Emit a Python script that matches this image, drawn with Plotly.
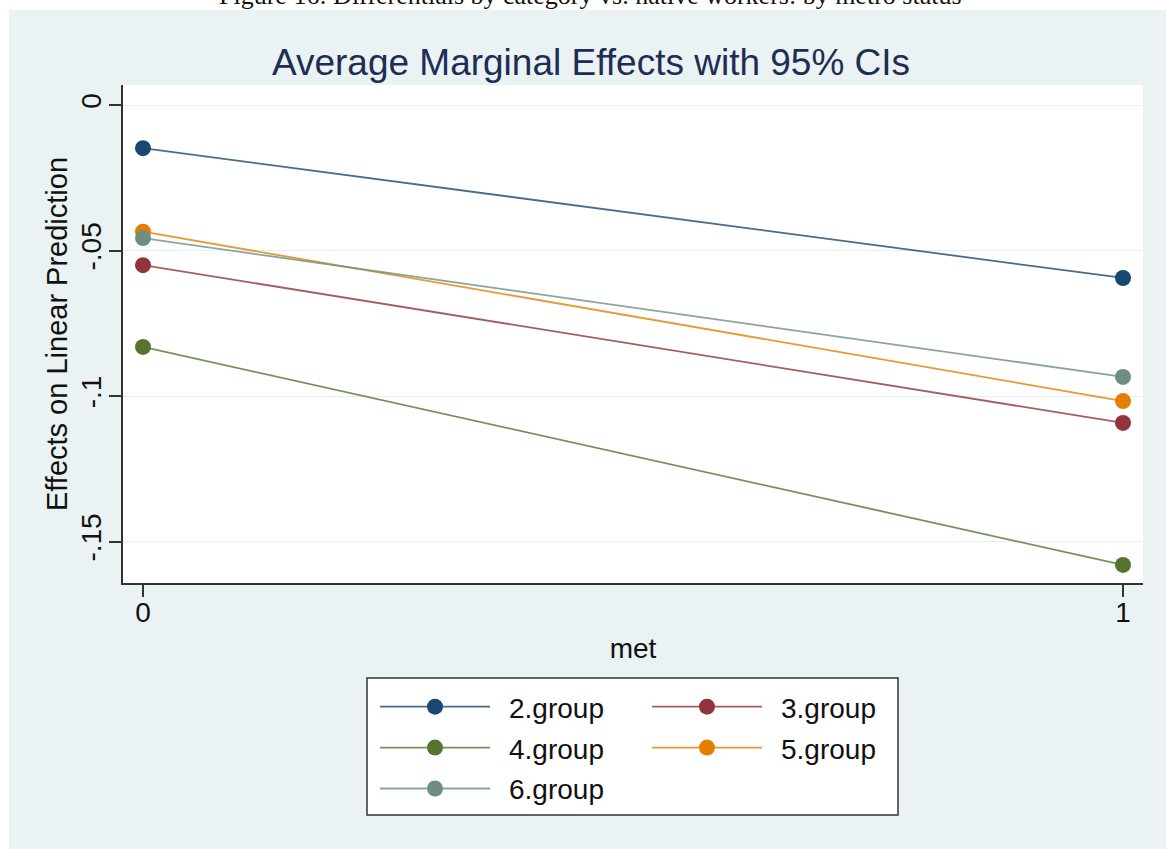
import plotly.graph_objects as go

# ---- data ----
met_levels = [0, 1]
groups = ["2.group", "3.group", "4.group", "5.group", "6.group"]
effects = {
    "2.group": [-0.0148, -0.0594],
    "3.group": [-0.0550, -0.1092],
    "4.group": [-0.0831, -0.1580],
    "5.group": [-0.0435, -0.1017],
    "6.group": [-0.0457, -0.0934],
}
y_ticks = [0, -0.05, -0.1, -0.15]
y_tick_text = ["0", "-.05", "-.1", "-.15"]
x_tick_text = ["0", "1"]

# ---- styling ----
colors = {
    "2.group": "26,71,111",
    "3.group": "144,53,59",
    "4.group": "85,117,47",
    "5.group": "227,126,0",
    "6.group": "110,142,132",
}
legend_of = {"2.group": "legend", "4.group": "legend", "6.group": "legend",
             "3.group": "legend2", "5.group": "legend2"}

W, H = 1166, 849
L, R, T, B = 123, 23, 85, 266
PW, PH = W - L - R, H - T - B


def px_x(p):
    return (p - L) / PW


def px_y(p):
    return (H - B - p) / PH


fig = go.Figure()
for g in groups:
    c = colors[g]
    fig.add_trace(go.Scatter(
        x=met_levels, y=effects[g], name="\u2002" + g, mode="lines+markers",
        line=dict(color=f"rgba({c},0.8)", width=1.8),
        marker=dict(color=f"rgb({c})", size=16, line=dict(width=0)),
        legend=legend_of[g], legendgroup=g,
    ))

font = "Liberation Sans, Arial, Helvetica, sans-serif"
bg = "#EAF2F3"

legend_common = dict(
    orientation="v", xanchor="left", yanchor="top",
    bgcolor="rgba(0,0,0,0)", borderwidth=0,
    font=dict(family=font, size=28, color="#111"),
    itemwidth=110, tracegroupgap=1.5, itemclick=False,
)

fig.update_layout(
    width=W, height=H,
    margin=dict(l=L, r=R, t=T, b=B),
    paper_bgcolor=bg, plot_bgcolor="white",
    title=dict(text="Average Marginal Effects with 95% CIs",
               font=dict(family=font, size=37, color="#1E2D53"),
               x=px_x(591), xanchor="center", xref="paper",
               y=1 - 62 / H, yanchor="middle"),
    font=dict(family=font, size=28, color="#111"),
    legend=dict(x=px_x(375), y=px_y(682), **legend_common),
    legend2=dict(x=px_x(647), y=px_y(682), **legend_common),
    showlegend=True,
)

fig.update_xaxes(
    range=[-0.0204, 1.0204], tickvals=met_levels, ticktext=x_tick_text,
    ticks="outside", ticklen=12, tickwidth=1.5, tickcolor="#333",
    ticklabelstandoff=-8,
    showline=True, linecolor="#333", linewidth=1.5,
    showgrid=False, zeroline=False,
    tickfont=dict(family=font, size=28, color="#111"),
    title=dict(text="met", font=dict(family=font, size=28, color="#111"), standoff=11),
)
fig.update_yaxes(
    range=[-0.1642, 0.0069], tickvals=y_ticks, ticktext=y_tick_text,
    tickangle=-90, ticklabelstandoff=-3,
    ticks="outside", ticklen=12, tickwidth=1.5, tickcolor="#333",
    showline=True, linecolor="#333", linewidth=1.5,
    showgrid=True, gridcolor="#E6EFF1", gridwidth=1.2, zeroline=False,
    tickfont=dict(family=font, size=28, color="#111"),
    title=dict(text="Effects on Linear Prediction",
               font=dict(family=font, size=29, color="#111"), standoff=0),
)

# white page border around the graph region
fig.add_shape(type="rect", xref="paper", yref="paper", layer="below",
              x0=px_x(0), x1=px_x(9), y0=px_y(H), y1=px_y(0),
              fillcolor="white", line=dict(width=0))
fig.add_shape(type="rect", xref="paper", yref="paper", layer="below",
              x0=px_x(0), x1=px_x(W), y0=px_y(10), y1=px_y(0),
              fillcolor="white", line=dict(width=0))
# legend frame
fig.add_shape(type="rect", xref="paper", yref="paper", layer="below",
              x0=px_x(367), x1=px_x(898), y0=px_y(815), y1=px_y(678),
              fillcolor="white", line=dict(color="#333", width=1.5))

# document caption above the graph
fig.add_annotation(
    text="Figure 16: Differentials by category vs. native workers: by metro status",
    xref="paper", yref="paper", x=px_x(590), y=px_y(12),
    xanchor="center", yanchor="bottom", showarrow=False,
    font=dict(family="Liberation Serif, Times New Roman, serif", size=26, color="#111"),
)

fig.write_html("out.html")
